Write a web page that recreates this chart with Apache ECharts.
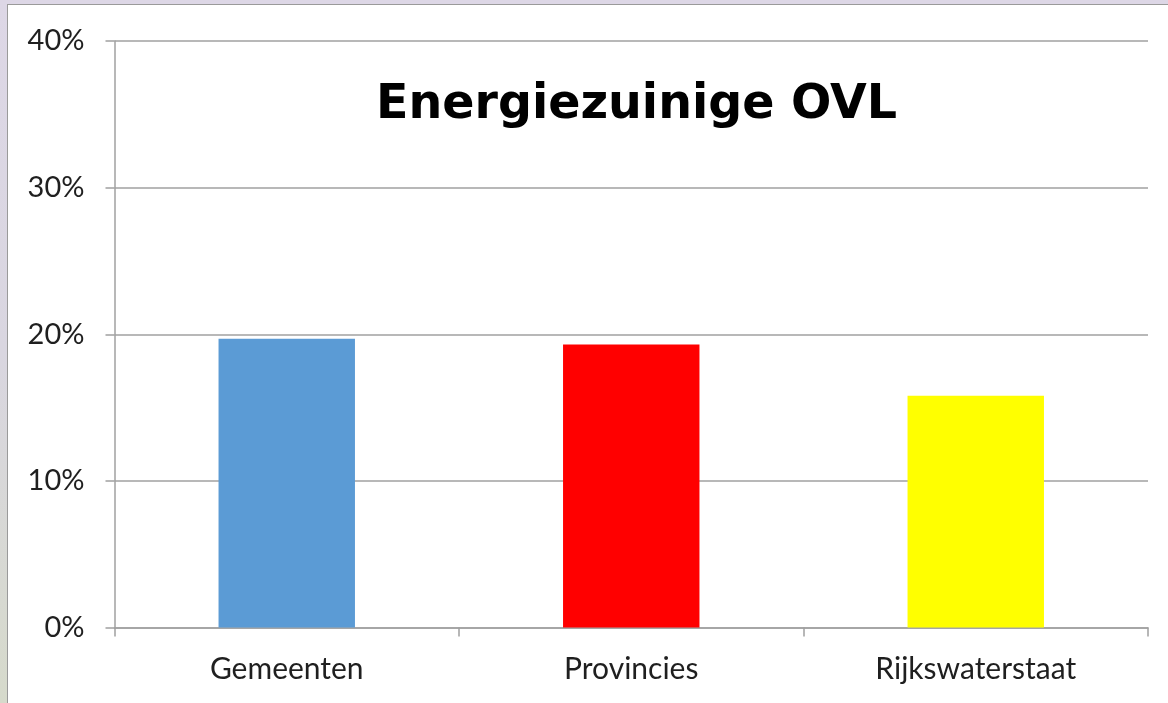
<!DOCTYPE html>
<html>
<head>
<meta charset="utf-8">
<script src="https://cdn.jsdelivr.net/npm/echarts@6/dist/echarts.min.js"></script>
<style>
html,body{margin:0;padding:0;width:1168px;height:703px;overflow:hidden;
  background:linear-gradient(to bottom,#ddd7e6 0%,#d9d6e0 50%,#d6dacb 100%);}
#frame{position:absolute;left:7px;top:4px;right:0;bottom:0;background:#fff;
  border-left:1px solid #9a9a9a;border-top:1px solid #9a9a9a;}
#chart{position:absolute;left:0;top:0;width:1168px;height:703px;}
</style>
</head>
<body>
<div id="frame"></div>
<div id="chart"></div>
<script>
const titleText = 'Energiezuinige OVL';
const categories = ['Gemeenten', 'Provincies', 'Rijkswaterstaat'];
const values = [19.7, 19.3, 15.8];
const barColors = ['#5b9bd5', '#ff0000', '#ffff00'];
const yTicks = [0, 10, 20, 30, 40];

const chart = echarts.init(document.getElementById('chart'), null, {renderer: 'canvas'});
chart.setOption({
  backgroundColor: 'transparent',
  animation: false,
  title: {
    text: titleText,
    left: 376,
    top: 82,
    padding: 0,
    textStyle: {fontFamily: 'DejaVu Sans', fontWeight: 'bold', fontSize: 47.5, color: '#000'}
  },
  grid: {left: 114.5, right: 20, top: 41, bottom: 75.5},
  xAxis: {
    type: 'category',
    data: categories,
    axisLine: {lineStyle: {color: '#a0a0a0', width: 1.5}},
    axisTick: {show: true, length: 9, alignWithLabel: false, lineStyle: {color: '#a0a0a0', width: 1.5}},
    axisLabel: {margin: 27, fontFamily: 'Lato', fontSize: 30, color: '#1f1f1f'}
  },
  yAxis: {
    type: 'value',
    min: yTicks[0],
    max: yTicks[yTicks.length - 1],
    interval: 10,
    axisLine: {show: true, lineStyle: {color: '#a0a0a0', width: 1.5}},
    axisTick: {show: true, length: 9, lineStyle: {color: '#a0a0a0', width: 1.5}},
    axisLabel: {margin: 30, fontFamily: 'Lato', fontSize: 29, color: '#1f1f1f', formatter: '{value}%'},
    splitLine: {show: true, lineStyle: {color: '#a0a0a0', width: 1.5}}
  },
  series: [{
    type: 'bar',
    data: values.map((v, i) => ({value: v, itemStyle: {color: barColors[i]}})),
    barWidth: '39.6%'
  }]
});
</script>
</body>
</html>
